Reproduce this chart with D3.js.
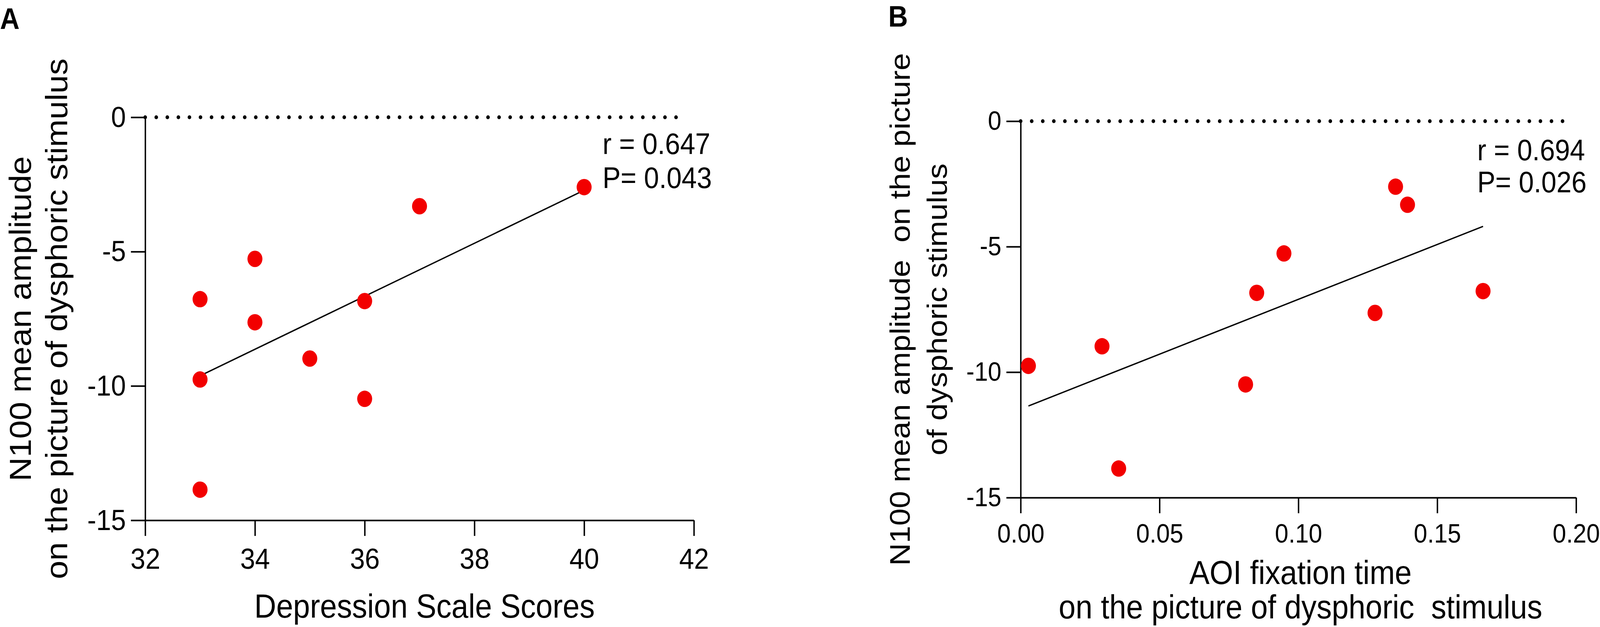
<!DOCTYPE html>
<html>
<head>
<meta charset="utf-8">
<script src="https://cdn.jsdelivr.net/npm/d3@7"></script>
<style>
  html, body { margin: 0; padding: 0; background: #fff; overflow: hidden; }
  svg { display: block; width: 100vw; height: 100vh; font-family: "Liberation Sans", Arial, sans-serif; }
</style>
</head>
<body>
<svg class="chart"></svg>
<script>
"use strict";
var width = 4485;
var height = 1604;

// panel A data
var depressionScores = [33, 33, 33, 34, 34, 35, 36, 36, 37, 40];
var n100A = [-6.77, -9.76, -13.86, -5.27, -7.63, -8.98, -6.84, -10.48, -3.31, -2.60];
var ticksAx = [32, 34, 36, 38, 40, 42];
var ticksAy = [0, -5, -10, -15];
var statsA = ["r = 0.647", "P= 0.043"];

// panel B data
var aoiTime = [0.0028, 0.0293, 0.0353, 0.0810, 0.0850, 0.0948, 0.1276, 0.1350, 0.1393, 0.1665];
var n100B = [-9.75, -8.97, -13.84, -10.49, -6.84, -5.27, -7.64, -2.61, -3.33, -6.77];
var ticksBx = [0, 0.05, 0.10, 0.15, 0.20];
var ticksBy = [0, -5, -10, -15];
var statsB = ["r = 0.694", "P= 0.026"];

// drawn in 4485x1604 units, stretched to fill the window
var svg = d3.select(".chart")
	.attr("viewBox", "0 0 " + width + " " + height)
	.attr("preserveAspectRatio", "none");

svg.append("rect")
	.attr("width", width)
	.attr("height", height)
	.attr("fill", "#fff");

// least squares fit, returns endpoints over the x range of the data
function fitLine(xs, ys) {
	var mx = d3.mean(xs), my = d3.mean(ys);
	var sxy = 0, sxx = 0;
	for (var i = 0; i < xs.length; i++) {
		sxy += (xs[i] - mx) * (ys[i] - my);
		sxx += (xs[i] - mx) * (xs[i] - mx);
	}
	var b = sxy / sxx;
	var x0 = d3.min(xs), x1 = d3.max(xs);
	return [[x0, my + b * (x0 - mx)], [x1, my + b * (x1 - mx)]];
}

function drawPanel(p) {
	var x = d3.scaleLinear().domain([p.xTicks[0], p.xTicks[p.xTicks.length - 1]]).range([p.left, p.right]);
	var y = d3.scaleLinear().domain([-15, 0]).range([p.bottom, p.top]);
	var g = svg.append("g");

	// dotted zero line
	g.append("line")
		.attr("x1", x(p.xTicks[0]))
		.attr("x2", x(p.dotEnd))
		.attr("y1", y(0))
		.attr("y2", y(0))
		.attr("stroke", "#000")
		.attr("stroke-width", 10)
		.attr("stroke-linecap", "round")
		.attr("stroke-dasharray", "0 31");

	// axes
	var xAxis = g.append("g")
		.attr("transform", "translate(0," + p.bottom + ")")
		.call(d3.axisBottom(x).tickValues(p.xTicks).tickFormat(p.xFmt)
			.tickSize(40).tickSizeOuter(0).tickPadding(p.xPad));
	var yAxis = g.append("g")
		.attr("transform", "translate(" + p.left + ",0)")
		.call(d3.axisLeft(y).tickValues(p.yTicks).tickFormat(function(d){return String(d);})
			.tickSize(40).tickSizeOuter(0).tickPadding(14));
	[xAxis, yAxis].forEach(function(ax) {
		ax.selectAll("path, line").attr("stroke", "#000").attr("stroke-width", 4);
		ax.selectAll("text")
			.attr("fill", "#000")
			.style("font-family", "Liberation Sans, Arial, sans-serif")
			.style("font-size", p.tickFont + "px");
	});

	// regression line
	var fit = fitLine(p.xs, p.ys);
	g.append("line")
		.attr("x1", x(fit[0][0]))
		.attr("y1", y(fit[0][1]))
		.attr("x2", x(fit[1][0]))
		.attr("y2", y(fit[1][1]))
		.attr("stroke", "#000")
		.attr("stroke-width", 3.5);

	// points
	g.selectAll("circle.pt")
		.data(p.xs.map(function(d, i) { return [d, p.ys[i]]; }))
		.enter()
		.append("circle")
		.attr("class", "pt")
		.attr("cx", function(d) { return x(d[0]); })
		.attr("cy", function(d) { return y(d[1]); })
		.attr("r", 21)
		.attr("fill", "#f20000");

	// r and P
	g.selectAll("text.stat")
		.data(p.stats)
		.enter()
		.append("text")
		.attr("class", "stat")
		.attr("x", p.statX)
		.attr("y", function(d, i) { return p.statY + i * p.statGap; })
		.attr("font-size", 76)
		.text(function(d) { return d; });

	// x title
	g.selectAll("text.xt")
		.data(p.xTitle)
		.enter()
		.append("text")
		.attr("class", "xt")
		.attr("x", (p.left + p.right) / 2 + p.xTitleShift)
		.attr("y", function(d, i) { return p.xTitleY + i * 88; })
		.attr("text-anchor", "middle")
		.attr("font-size", 85)
		.style("white-space", "pre")
		.text(function(d) { return d; });

	// y title, rotated
	var cy = (p.top + p.bottom) / 2;
	g.selectAll("text.yt")
		.data(p.yTitle)
		.enter()
		.append("text")
		.attr("class", "yt")
		.attr("transform", function(d, i) {
			return "translate(" + (p.yTitleX + i * p.yTitleGap) + "," + cy + ") rotate(-90)";
		})
		.attr("text-anchor", "middle")
		.attr("font-size", p.yTitleFont)
		.style("white-space", "pre")
		.text(function(d) { return d; });

	// panel letter
	g.append("text")
		.attr("x", p.letterX)
		.attr("y", p.letterY)
		.attr("font-size", 76)
		.attr("font-weight", "bold")
		.text(p.letter);
}

drawPanel({
	xs: depressionScores, ys: n100A,
	xTicks: ticksAx, yTicks: ticksAy,
	xFmt: function(d) { return String(d); },
	left: 407, right: 1945, top: 300, bottom: 1331,
	dotEnd: 41.8, xPad: 31, tickFont: 75,
	stats: statsA, statX: 1689, statY: 394, statGap: 87,
	xTitle: ["Depression Scale Scores"], xTitleY: 1580, xTitleShift: 14,
	yTitle: ["N100 mean amplitude", "on the picture of dysphoric stimulus"],
	yTitleX: 86, yTitleGap: 102, yTitleFont: 85,
	letter: "A", letterX: 0, letterY: 74
});

drawPanel({
	xs: aoiTime, ys: n100B,
	xTicks: ticksBx, yTicks: ticksBy,
	xFmt: d3.format(".2f"),
	left: 2861, right: 4418, top: 310, bottom: 1273,
	dotEnd: 0.1965, xPad: 27, tickFont: 68,
	stats: statsB, statX: 4141, statY: 410, statGap: 82,
	xTitle: ["AOI fixation time", "on the picture of dysphoric  stimulus"], xTitleY: 1494, xTitleShift: 6,
	yTitle: ["N100 mean amplitude  on the picture", "of dysphoric stimulus"],
	yTitleX: 2550, yTitleGap: 104, yTitleFont: 80,
	letter: "B", letterX: 2490, letterY: 68
});
</script>
</body>
</html>
